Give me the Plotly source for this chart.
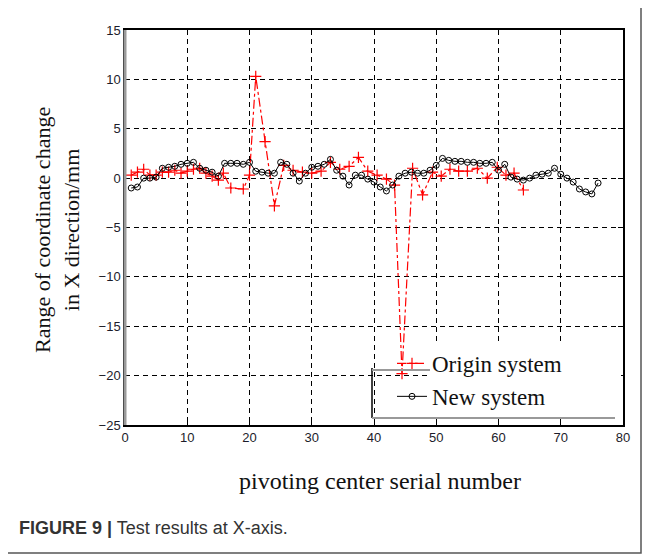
import plotly.graph_objects as go

# ---- data ----
new_x = list(range(1, 77))
new_y = [-1.0, -0.9, 0.0, 0.0, 0.1, 1.0, 1.1, 1.2, 1.4, 1.5,
         1.6, 1.0, 0.8, 0.6, 0.2, 1.5, 1.5, 1.5, 1.4, 1.6,
         0.7, 0.6, 0.5, 0.5, 1.6, 1.4, 0.5, -0.3, 0.5, 1.1,
         1.2, 1.4, 1.9, 0.8, 0.2, -0.7, 0.3, 0.3, -0.1, -0.4,
         -0.9, -1.3, -0.7, 0.2, 0.5, 0.6, 0.5, 0.5, 0.8, 1.3,
         2.0, 1.8, 1.7, 1.7, 1.6, 1.6, 1.5, 1.5, 1.6, 0.8,
         1.4, 0.1, -0.1, -0.2, 0.0, 0.3, 0.4, 0.5, 1.0, 0.4,
         0.0, -0.4, -1.1, -1.4, -1.6, -0.5]

orig_x = [1, 2, 3, 4, 5, 6, 7, 8, 9, 10, 11, 12, 13, 14, 15, 15.8, 17, 19, 20,
          21, 22.5, 24, 25.5, 27, 28.5, 30, 31.5, 33, 34.5, 36, 37.5, 39, 40.5,
          42, 43.3, 44.5, 46.2, 47.8, 49.4, 50.8, 52.2, 53.6, 55, 56.6, 58.2,
          59.8, 61.2, 62.5, 64]
orig_y = [0.3, 0.6, 0.9, 0.3, 0.3, 0.6, 0.6, 0.8, 0.5, 0.7, 0.9, 1.0, 0.5, 0.2,
          -0.2, 0.5, -1.0, -1.1, 0.3,
          10.3, 3.7, -2.8, 1.3, 0.8, 0.6, 0.5, 0.7, 1.6, 0.9, 1.2, 2.1, 0.7, 0.3,
          -0.1, -0.7, -19.8, 1.0, -1.7, 0.6, 0.2, 0.9, 0.7, 0.7, 1.0, 0.0,
          1.1, 0.3, 0.5, -1.2]

x_ticks = [0, 10, 20, 30, 40, 50, 60, 70, 80]
y_ticks = [-25, -20, -15, -10, -5, 0, 5, 10, 15]

# ---- layout geometry (window pixels; page body adds an 8px offset) ----
OFF = 8
W, H = 652 - OFF, 558 - OFF
PLOT_L, PLOT_R, PLOT_T, PLOT_B = 125, 623, 30, 425   # window coords
L = PLOT_L - OFF
T = PLOT_T - OFF
R = W - (PLOT_R - OFF)
B = H - (PLOT_B - OFF)
PW, PH = W - L - R, H - T - B

def px(xp):
    return (xp - OFF - L) / PW

def py(yp):
    return (H - B - (yp - OFF)) / PH

fig = go.Figure()
fig.add_trace(go.Scatter(
    x=orig_x, y=orig_y, name="Origin system", mode="lines+markers",
    line=dict(color="#ff0000", width=1.2, dash="dashdot"),
    marker=dict(symbol="cross-thin", size=8, line=dict(color="#ff0000", width=1.2)),
))
fig.add_trace(go.Scatter(
    x=new_x, y=new_y, name="New system", mode="lines+markers",
    line=dict(color="#000000", width=1),
    marker=dict(symbol="circle-open", size=6, color="#000000", line=dict(color="#000000", width=1)),
))

tickfont = dict(family="Liberation Sans, Arial", size=13, color="#1c1c2a")
serif = "Liberation Serif, Times New Roman"
fig.update_layout(
    width=W, height=H,
    margin=dict(l=L, r=R, t=T, b=B),
    paper_bgcolor="white", plot_bgcolor="white",
    xaxis=dict(range=[0, 80], tickvals=x_ticks, ticks="inside", ticklen=5,
               tickcolor="black", showline=True, linecolor="black", linewidth=1.5,
               mirror="ticks", showgrid=True, gridcolor="black", griddash="5px,4px",
               gridwidth=1, zeroline=False, tickfont=tickfont),
    yaxis=dict(range=[-25, 15], tickvals=y_ticks, ticks="inside", ticklen=5,
               tickcolor="black", showline=True, linecolor="black", linewidth=1.5,
               mirror="ticks", showgrid=True, gridcolor="black", griddash="5px,4px",
               gridwidth=1, zeroline=False, tickfont=tickfont),
    showlegend=True,
    legend=dict(x=px(392), y=py(342), xanchor="left", yanchor="top",
                bgcolor="rgba(0,0,0,0)", borderwidth=0,
                font=dict(family=serif, size=23, color="#111"),
                itemwidth=30, tracegroupgap=0),
)

# white legend area (right part, where no data passes)
fig.add_shape(type="rect", xref="paper", yref="paper", layer="above",
              x0=px(430), x1=px(621), y0=py(416), y1=py(345),
              line=dict(width=0), fillcolor="white")

# grey left spine
fig.add_shape(type="line", xref="paper", yref="paper", x0=0, x1=0, y0=0, y1=1,
              line=dict(color="#9a9a9a", width=3))

# legend box edges
fig.add_shape(type="line", xref="paper", yref="paper", x0=px(372), x1=px(372),
              y0=py(368), y1=py(418), line=dict(color="black", width=1.5))
fig.add_shape(type="line", xref="paper", yref="paper", x0=px(372), x1=px(430),
              y0=py(370), y1=py(370), line=dict(color="#999999", width=2))
fig.add_shape(type="line", xref="paper", yref="paper", x0=px(372), x1=px(615),
              y0=py(418), y1=py(418), line=dict(color="#999999", width=2))

# outer frame
fig.add_shape(type="rect", xref="paper", yref="paper", x0=px(4), x1=px(641),
              y0=py(553), y1=py(6), line=dict(color="#555555", width=1.5))

fig.add_annotation(xref="paper", yref="paper", x=px(57), y=py(230),
                   xanchor="center", yanchor="middle",
                   text="Range of coordinate change<br>in X direction/mm",
                   textangle=-90, showarrow=False,
                   font=dict(family=serif, size=22, color="#111"))
fig.add_annotation(xref="paper", yref="paper", x=px(380), y=py(481),
                   xanchor="center", yanchor="middle",
                   text="pivoting center serial number", showarrow=False,
                   font=dict(family=serif, size=24, color="#111"))
fig.add_annotation(xref="paper", yref="paper", x=px(17), y=py(528),
                   xanchor="left", yanchor="middle",
                   text="<b>FIGURE 9 |</b> Test results at X-axis.", showarrow=False,
                   font=dict(family="Liberation Sans, Arial", size=18, color="#333"))

fig.write_html("out.html")
